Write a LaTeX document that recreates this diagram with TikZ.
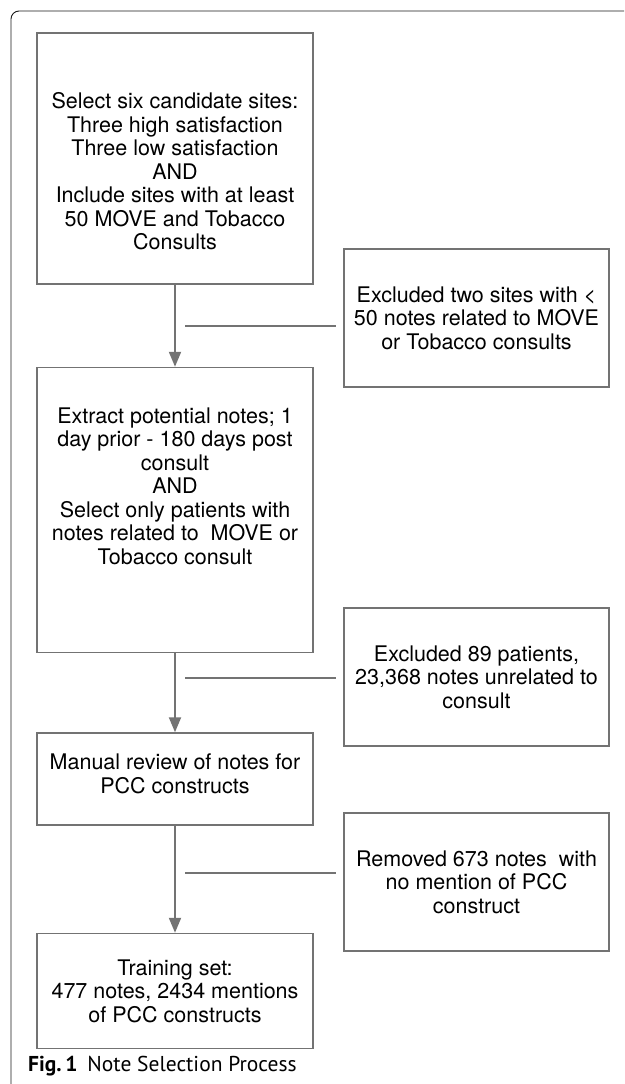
\documentclass[tikz,border=0pt]{standalone}
\usepackage{fontspec}
\setmainfont{TeX Gyre Heros}
\newfontfamily\capfont{PT Sans}
\usetikzlibrary{positioning,arrows.meta}

\begin{document}
\begin{tikzpicture}[
  x=1pt,y=-1pt,
  >={Triangle[length=15pt,width=12pt]},
  node distance=80pt,
  stage/.style={draw=black!55,line width=1.5pt,minimum width=276pt,inner sep=0pt},
  drop/.style={draw=black!55,line width=1.5pt,minimum width=265pt,minimum height=138pt,
    align=center,inner sep=0pt,font=\fontsize{21.5}{23.5}\selectfont},
  note/.style={align=center,inner sep=0pt,font=\fontsize{21.5}{23.5}\selectfont},
  flow/.style={->,draw=black!55,line width=2pt},
  link/.style={draw=black!55,line width=1.5pt,shorten >=7pt}
]
  \useasboundingbox (0,0) rectangle (624,1084);
  \draw[black!90,line width=0.9pt,rounded corners=8pt] (624,11) -- (11,11) -- (11,1084);

  % main column
  \node[stage,minimum height=251pt] (select) at (175,158.5) {};
  \node[stage,minimum height=285pt,below=82pt of select] (extract) {};
  \node[stage,minimum height=92pt,below=79pt of extract] (review) {};
  \node[stage,minimum height=115pt,below=107pt of review] (training) {};

  \node[note,yshift=-13pt] (selecttext) at (select)
    {Select six candidate sites:\\Three high satisfaction\\Three low satisfaction\\AND\\
     Include sites with at least\\50 MOVE and Tobacco\\Consults};
  \node[note,yshift=24pt] (extracttext) at (extract)
    {Extract potential notes; 1\\day prior - 180 days post\\consult\\AND\\
     Select only patients with\\notes related to\ \ MOVE or\\Tobacco consult};
  \node[note,yshift=5pt] (reviewtext) at (review)
    {Manual review of notes for\\PCC constructs};
  \node[note] (trainingtext) at (training)
    {Training set:\\477 notes, 2434 mentions\\of PCC constructs};

  % exclusions
  \node[drop] (lowsites) at (476.5,318)
    {Excluded two sites with <\\50 notes related to MOVE\\or Tobacco consults};
  \node[drop] (unrelated) at (476.5,677)
    {Excluded 89 patients,\\23,368 notes unrelated to\\consult};
  \node[drop] (nomention) at (476.5,882)
    {Removed 673 notes\ \ with\\no mention of PCC\\construct};

  \draw[flow] (select) -- (extract);
  \draw[flow] (extract) -- (review);
  \draw[flow] (review) -- (training);

  \coordinate (tap1) at (185,326);
  \coordinate (tap2) at (185,678);
  \coordinate (tap3) at (185,873);
  \draw[link] (tap1) -- (tap1 -| lowsites.west);
  \draw[link] (tap2) -- (tap2 -| unrelated.west);
  \draw[link] (tap3) -- (tap3 -| nomention.west);

  \node[anchor=base west,inner sep=0pt,font=\capfont\fontsize{21.5}{24}\selectfont] (caption)
    at (28,1071) {\textbf{Fig.\,1}\hspace{10pt}Note Selection Process};
\end{tikzpicture}
\end{document}
